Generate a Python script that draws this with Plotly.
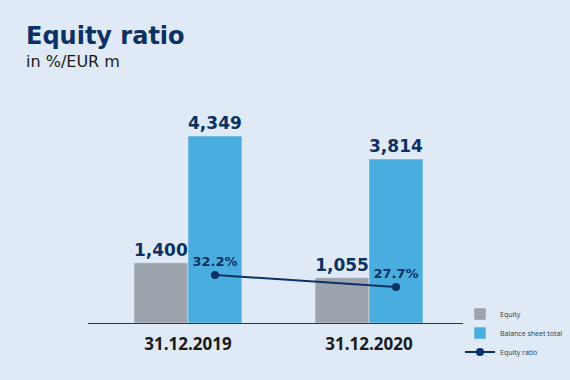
import plotly.graph_objects as go

categories = ["31.12.2019", "31.12.2020"]
equity = [1400, 1055]
balance_total = [4349, 3814]
equity_ratio = [32.2, 27.7]

NAVY = "#0c3163"
GRAY = "#9ca3ad"
BLUE = "#4aaddf"
BG = "#dfeaf6"

L, R, T, B = 88, 107, 100, 57
PW, PH = 570 - L - R, 380 - T - B

x_idx = list(range(len(categories)))
bar_w = 0.298
line_x = [i + bar_w / 2 for i in x_idx]

label_font = dict(family="DejaVu Sans", size=17, color=NAVY, weight="bold")

fig = go.Figure()
fig.add_trace(go.Bar(
    x=x_idx, y=equity, name="Equity", marker_color=GRAY, width=bar_w,
    offset=-bar_w,
    text=equity, texttemplate="%{y:,}", textposition="outside",
    textfont=label_font, cliponaxis=False,
))
fig.add_trace(go.Bar(
    x=x_idx, y=balance_total, name="Balance sheet total", marker_color=BLUE,
    width=bar_w, offset=0,
    text=balance_total, texttemplate="%{y:,}", textposition="outside",
    textfont=label_font, cliponaxis=False,
))
fig.add_trace(go.Scatter(
    x=line_x, y=equity_ratio, name="Equity ratio", yaxis="y2",
    mode="lines+markers+text",
    line=dict(color=NAVY, width=2), marker=dict(color=NAVY, size=8),
    text=[f"{v:.1f}%" for v in equity_ratio], textposition="top center",
    textfont=dict(family="DejaVu Sans", size=13, color=NAVY, weight="bold"),
    cliponaxis=False,
))

fig.update_layout(
    width=570, height=380,
    margin=dict(l=L, r=R, t=T, b=B, autoexpand=False),
    paper_bgcolor=BG, plot_bgcolor=BG,
    showlegend=True,
    legend=dict(
        x=(460 - L) / PW, xanchor="left", y=(323 - 333) / PH, yanchor="middle",
        font=dict(family="Open Sans", size=7, color="#2a3a4f"),
        bgcolor="rgba(0,0,0,0)", tracegroupgap=0,
    ),
    xaxis=dict(
        range=[-0.552, 1.519], tickvals=x_idx, ticktext=categories,
        showline=True, linecolor="#333333", linewidth=1,
        showgrid=False, zeroline=False, ticks="", ticklabelstandoff=6,
        tickfont=dict(family="Open Sans", size=17, color="#1a1a1a", weight="bold"),
    ),
    yaxis=dict(range=[0, 5186], visible=False, showgrid=False),
    yaxis2=dict(range=[14.2, 97.8], overlaying="y", visible=False, showgrid=False),
)
fig.add_annotation(
    text="<b>Equity ratio</b>", xref="paper", yref="paper",
    x=(24 - L) / PW, y=1 + (T - 20) / PH, xanchor="left", yanchor="top",
    showarrow=False, font=dict(family="DejaVu Sans", size=24, color=NAVY),
)
fig.add_annotation(
    text="in %/EUR m", xref="paper", yref="paper",
    x=(24 - L) / PW, y=1 + (T - 50) / PH, xanchor="left", yanchor="top",
    showarrow=False, font=dict(family="DejaVu Sans", size=16, color="#1a1a1a"),
)

fig.write_html(
    "out.html",
    config={"displayModeBar": False},
    post_script="document.body.style.margin='0';document.body.style.background='" + BG + "';",
)
